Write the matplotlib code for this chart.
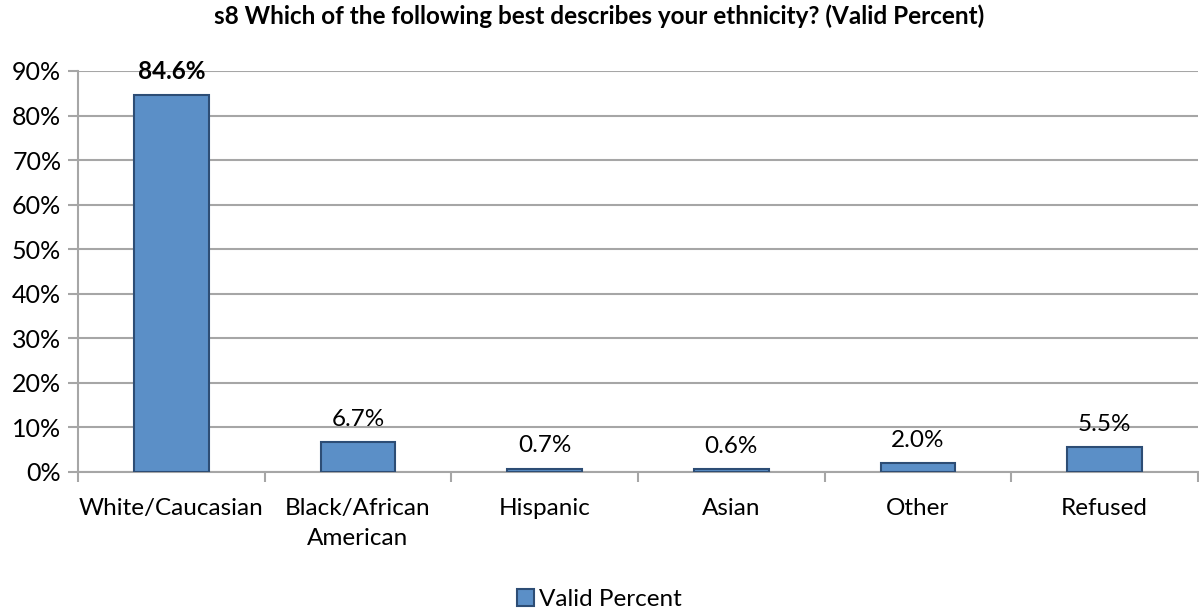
import numpy as np
import matplotlib.pyplot as plt
from matplotlib.ticker import PercentFormatter

# Chart data
categories = ['White/Caucasian', 'Black/African\nAmerican', 'Hispanic', 'Asian', 'Other', 'Refused']
values = [84.6, 6.7, 0.7, 0.6, 2.0, 5.5]
title = 's8 Which of the following best describes your ethnicity? (Valid Percent)'

plt.rcParams['font.family'] = ['Lato', 'DejaVu Sans']

fig = plt.figure(figsize=(11.99, 6.16), dpi=100)
ax = fig.add_axes([0.065, 0.2338, 0.934, 0.651])

x = np.arange(len(categories))
bars = ax.bar(x, values, width=0.40, color='#5B8FC7', edgecolor='#2D4D75',
              linewidth=1.5, label='Valid Percent', zorder=3)

# Value labels; the largest one is bold
for i, (xi, v) in enumerate(zip(x, values)):
    ax.text(xi, v + 2.8, f'{v:.1f}%', ha='center', va='bottom', fontsize=17.5,
            fontweight='bold' if i == 0 else 'normal', color='black', zorder=4)

ax.set_xlim(-0.5, len(categories) - 0.5)
ax.set_ylim(0, 90)
ax.set_yticks(np.arange(0, 91, 10))
ax.yaxis.set_major_formatter(PercentFormatter(decimals=0))
ax.grid(axis='y', color='#A6A6A6', linewidth=1.5, zorder=0)

# Category labels centered, tick marks at boundaries
ax.set_xticks(x)
ax.set_xticklabels(categories, fontsize=17.5, linespacing=1.5)
ax.tick_params(axis='x', length=0, pad=19)
ax.set_xticks(np.arange(-0.5, len(categories)), minor=True)
ax.tick_params(axis='x', which='minor', length=7, width=1.5, color='#A6A6A6')
ax.tick_params(axis='y', labelsize=18, length=7, width=1.5, color='#A6A6A6', pad=5)

for side in ['top', 'right']:
    ax.spines[side].set_visible(False)
for side in ['left', 'bottom']:
    ax.spines[side].set_color('#A6A6A6')
    ax.spines[side].set_linewidth(1.5)

fig.suptitle(title, fontsize=17.5, fontweight='bold', y=0.993)

fig.legend(loc='lower center', bbox_to_anchor=(0.5, -0.025), frameon=False,
           fontsize=17.5, handlelength=0.7, handleheight=0.7, handletextpad=0.2)

plt.savefig('out.png', dpi=100)
